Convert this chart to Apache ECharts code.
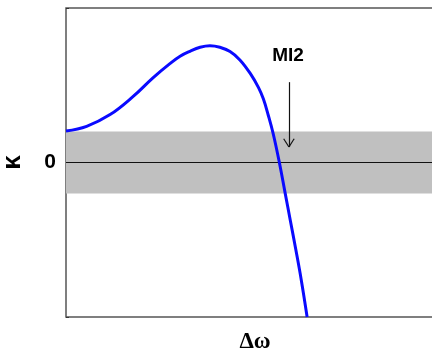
<!DOCTYPE html>
<html>
<head>
<meta charset="utf-8">
<script src="https://cdn.jsdelivr.net/npm/echarts@6/dist/echarts.min.js"></script>
<style>
  html, body { margin: 0; padding: 0; background: #fff; }
  #chart { width: 432px; height: 356px; }
</style>
</head>
<body>
<div id="chart"></div>
<script>
  // curve (detuning vs kappa, arbitrary units)
  var dw = [0, 0.67, 1.43, 2.17, 2.82, 3.37, 3.70, 4.02, 4.35, 4.67, 4.99, 5.32, 5.64, 5.97, 6.24, 6.40, 6.56, 6.72, 6.92, 7.1, 7.28, 7.45, 7.63, 7.82];
  var kappa = [1.02, 1.17, 1.55, 2.13, 2.74, 3.20, 3.44, 3.60, 3.73, 3.78, 3.73, 3.59, 3.32, 2.89, 2.43, 2.06, 1.53, 0.93, 0, -0.95, -1.9, -2.8, -3.8, -5];
  var band = [-1, 1];
  var yTicks = [-5, 0, 5];
  var arrowX = 7.23;
  var arrowY = [2.6, 0.5];
  var labelPos = [7.2, 3.45];

  var chart = echarts.init(document.getElementById('chart'));

  var pts = dw.map(function (x, i) { return [x, kappa[i]]; });
  var head = { dx: 0.17, dy: 0.27 };

  var option = {
    animation: false,
    grid: {
      left: 66, right: -4, top: 8, bottom: 39,
      outerBoundsMode: 'none', containLabel: false,
      show: true, borderColor: '#555', borderWidth: 1.5
    },
    xAxis: {
      type: 'value', min: 0, max: 12,
      name: 'Δω', nameLocation: 'middle', nameGap: 14,
      nameTextStyle: { fontFamily: 'Liberation Serif', fontWeight: 'bold', fontSize: 23, color: '#000', padding: [0, 0, 0, 8] },
      axisLine: { show: false }, axisTick: { show: false }, axisLabel: { show: false }, splitLine: { show: false }
    },
    yAxis: {
      type: 'value', min: yTicks[0], max: yTicks[2], interval: 5,
      name: 'κ', nameLocation: 'middle', nameGap: 40, nameRotate: 90,
      nameTextStyle: { fontFamily: 'Liberation Sans', fontWeight: 'bold', fontSize: 26, color: '#000' },
      axisLine: { show: false },
      axisTick: { show: true, inside: true, length: 3, lineStyle: { color: '#333' } },
      axisLabel: {
        margin: 10, color: '#000', fontFamily: 'Liberation Sans', fontWeight: 'bold', fontSize: 21,
        formatter: function (v) { return v === 0 ? '0' : ''; }
      },
      splitLine: { show: false }
    },
    series: [{
      type: 'line',
      data: pts,
      smooth: 0.4,
      showSymbol: false,
      clip: true,
      lineStyle: { color: '#0a0aff', width: 3 },
      z: 5,
      markArea: {
        silent: true,
        itemStyle: { color: '#c0c0c0' },
        data: [[{ yAxis: band[0] }, { yAxis: band[1] }]]
      },
      markLine: {
        silent: true,
        symbol: 'none',
        label: { show: false },
        lineStyle: { color: '#111', width: 1.2, type: 'solid' },
        data: [
          [{ coord: [0, 0] }, { coord: [12, 0] }],
          [{ coord: [arrowX, arrowY[0]] }, { coord: [arrowX, arrowY[1]] }],
          [{ coord: [arrowX - head.dx, arrowY[1] + head.dy] }, { coord: [arrowX, arrowY[1]] }],
          [{ coord: [arrowX + head.dx, arrowY[1] + head.dy] }, { coord: [arrowX, arrowY[1]] }]
        ]
      },
      markPoint: {
        silent: true,
        symbol: 'circle', symbolSize: 0,
        label: {
          show: true, position: 'inside', formatter: 'MI2', color: '#000',
          fontFamily: 'Liberation Sans', fontWeight: 'bold', fontSize: 19
        },
        data: [{ coord: labelPos }]
      }
    }]
  };

  chart.setOption(option);
</script>
</body>
</html>
